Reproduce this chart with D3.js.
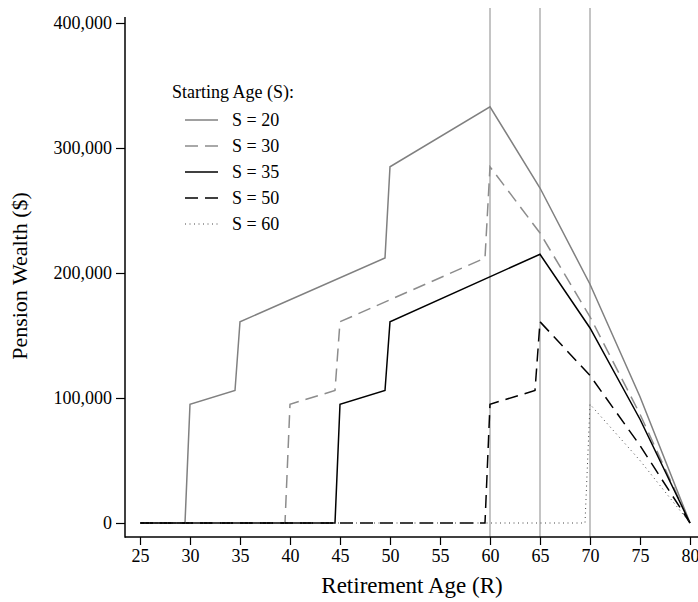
<!DOCTYPE html>
<html>
<head>
<meta charset="utf-8">
<script src="https://cdn.jsdelivr.net/npm/d3@7"></script>
<style>
  body { margin: 0; background: #fff; }
  svg { font-family: "Liberation Serif", "Times New Roman", serif; }
  .tick text { font-family: "Liberation Serif", "Times New Roman", serif; font-size: 18px; fill: #000; }
  .tick line { stroke: #000; stroke-width: 1.2px; }
</style>
</head>
<body>
<script>
// chart data (ages / pension wealth for each starting age)
var seriesNames = ["S = 20", "S = 30", "S = 35", "S = 50", "S = 60"];

var ages20 = [25, 29.5, 30, 34.5, 35, 49.5, 50, 60, 65, 70, 75, 80];
var wealth20 = [0, 0, 95000, 106000, 161000, 212000, 285000, 333000, 268000, 191000, 101000, 0];

var ages30 = [25, 39.5, 40, 44.5, 45, 59.5, 60, 65, 70, 75, 80];
var wealth30 = [0, 0, 95000, 106000, 161000, 212000, 285000, 232000, 165000, 87000, 0];

var ages35 = [25, 44.5, 45, 49.5, 50, 65, 70, 75, 80];
var wealth35 = [0, 0, 95000, 106000, 161000, 215000, 156000, 83000, 0];

var ages50 = [25, 59.5, 60, 64.5, 65, 70, 75, 80];
var wealth50 = [0, 0, 95000, 106000, 161000, 118000, 62000, 0];

var ages60 = [25, 69.5, 70, 75, 80];
var wealth60 = [0, 0, 95000, 50000, 0];

var xTicks = [25, 30, 35, 40, 45, 50, 55, 60, 65, 70, 75, 80];
var yTicks = [0, 100000, 200000, 300000, 400000];
var refAges = [60, 65, 70];

(function(){
  var width = 698,
      height = 602;

  var svg = d3.select("body")
    .append("svg")
    .attr("width", width)
    .attr("height", height);

  // scales
  var x = d3.scaleLinear().domain([25, 80]).range([140, 690]);
  var y = d3.scaleLinear().domain([0, 400000]).range([523, 23]);

  // line styles for each series
  var styles = [
    {color: "#808080", width: 1.5, dash: null},
    {color: "#8c8c8c", width: 1.5, dash: "13,7"},
    {color: "#000", width: 1.5, dash: null},
    {color: "#000", width: 1.5, dash: "13,7"},
    {color: "#444", width: 1, dash: "1,3.5"}
  ];

  var series = [
    d3.zip(ages20, wealth20),
    d3.zip(ages30, wealth30),
    d3.zip(ages35, wealth35),
    d3.zip(ages50, wealth50),
    d3.zip(ages60, wealth60)
  ];

  // vertical reference lines
  svg.selectAll(".refLine")
    .data(refAges)
    .enter()
    .append("line")
    .attr("class", "refLine")
    .attr("x1", function(d){ return x(d); })
    .attr("x2", function(d){ return x(d); })
    .attr("y1", 8)
    .attr("y2", 537)
    .attr("stroke", "#c4c4c4")
    .attr("stroke-width", 2);

  // axes
  var xAxis = svg.append("g")
    .attr("transform", "translate(0,537)")
    .call(d3.axisBottom(x).tickValues(xTicks).tickSize(8).tickPadding(4).tickFormat(d3.format("d")));
  xAxis.select(".domain").remove();

  var yAxis = svg.append("g")
    .attr("transform", "translate(125,0)")
    .call(d3.axisLeft(y).tickValues(yTicks).tickSize(9).tickPadding(4).tickFormat(d3.format(",")));
  yAxis.select(".domain").remove();

  svg.append("line")
    .attr("x1", 125).attr("x2", 698)
    .attr("y1", 537).attr("y2", 537)
    .attr("stroke", "#000").attr("stroke-width", 1.5);

  svg.append("line")
    .attr("x1", 125).attr("x2", 125)
    .attr("y1", 17).attr("y2", 537.75)
    .attr("stroke", "#000").attr("stroke-width", 1.5);

  // axis titles
  svg.append("text")
    .attr("x", 412)
    .attr("y", 593)
    .attr("text-anchor", "middle")
    .style("font-size", "23px")
    .text("Retirement Age (R)");

  svg.append("text")
    .attr("transform", "translate(27,276) rotate(-90)")
    .attr("text-anchor", "middle")
    .style("font-size", "22px")
    .text("Pension Wealth ($)");

  // series lines
  var line = d3.line()
    .x(function(d){ return x(d[0]); })
    .y(function(d){ return y(d[1]); });

  svg.selectAll(".series")
    .data(series)
    .enter()
    .append("path")
    .attr("class", "series")
    .attr("d", line)
    .attr("fill", "none")
    .attr("stroke", function(d, i){ return styles[i].color; })
    .attr("stroke-width", function(d, i){ return styles[i].width; })
    .attr("stroke-dasharray", function(d, i){ return styles[i].dash; });

  // legend
  var legend = svg.append("g");

  legend.append("text")
    .attr("x", 172)
    .attr("y", 98)
    .style("font-size", "18px")
    .text("Starting Age (S):");

  var items = legend.selectAll(".legItem")
    .data(seriesNames)
    .enter()
    .append("g")
    .attr("class", "legItem")
    .attr("transform", function(d, i){ return "translate(0," + (120 + i * 26) + ")"; });

  items.append("line")
    .attr("x1", 185).attr("x2", 218)
    .attr("y1", 0).attr("y2", 0)
    .attr("stroke", function(d, i){ return styles[i].color; })
    .attr("stroke-width", function(d, i){ return styles[i].width; })
    .attr("stroke-dasharray", function(d, i){ return styles[i].dash; });

  items.append("text")
    .attr("x", 232)
    .attr("y", 6)
    .style("font-size", "18px")
    .text(function(d){ return d; });
})();
</script>
</body>
</html>
